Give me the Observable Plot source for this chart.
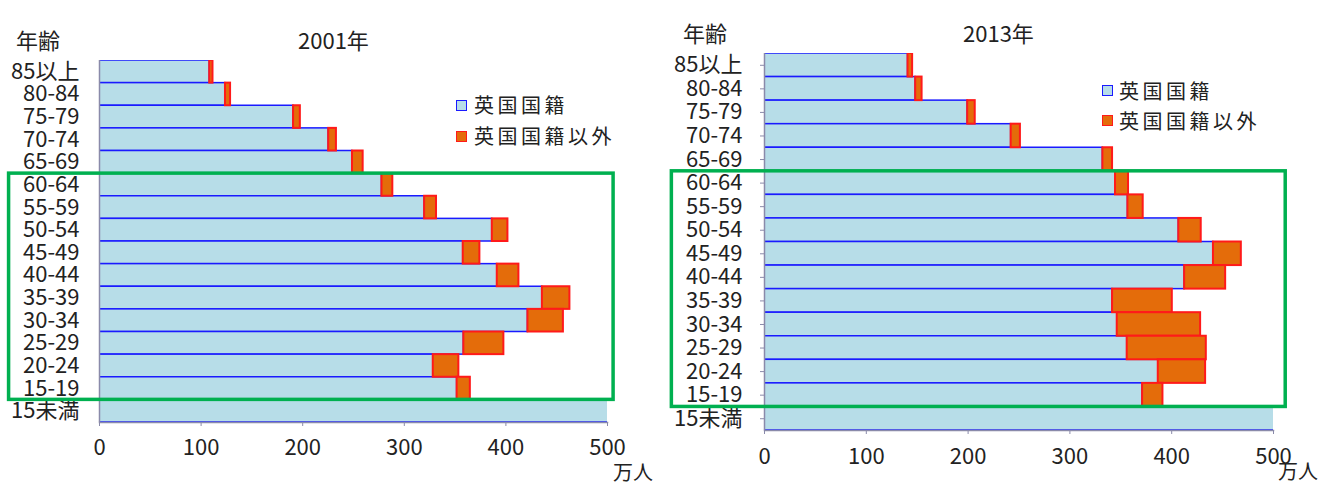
<!DOCTYPE html>
<html><head><meta charset="utf-8">
<script src="https://cdn.jsdelivr.net/npm/d3@7"></script>
<script src="https://cdn.jsdelivr.net/npm/@observablehq/plot@0.6"></script>
<style>
body{margin:0;background:#fff;font-family:"Noto Sans CJK JP",sans-serif;}
#wrap{position:relative;width:1319px;height:494px;overflow:hidden;}
.panel{position:absolute;top:0;}
.t{position:absolute;white-space:nowrap;color:#222;line-height:1;}
.lg{position:absolute;white-space:nowrap;color:#222;font-size:20px;letter-spacing:3.5px;line-height:1;}
.sw{position:absolute;width:9px;height:9px;box-sizing:content-box;}
</style></head><body>
<div id="wrap">
  <div id="p1" class="panel" style="left:0"></div>
  <div id="p2" class="panel" style="left:660px"></div>
</div>
<script>
const FONT = '"Noto Sans CJK JP", "Noto Sans", sans-serif';
const ages = ["85以上","80-84","75-79","70-74","65-69","60-64","55-59","50-54","45-49","40-44","35-39","30-34","25-29","20-24","15-19","15未満"];
const british2001 = [108.5,124,191,225.6,249,278,320,386.6,358,391.5,435.9,421.7,358.6,328.5,352,1080];
const nonBritish2001 = [3.2,5,6.7,7.6,10.5,10.7,11.7,15.4,16.4,21.3,27.1,34.9,39.4,25.2,13,40];
const british2013 = [141,148.5,199.6,242.3,332.4,344.8,357,407,441,412.7,341.9,346.5,356.3,386.8,371.4,1080];
const nonBritish2013 = [4.5,6.3,7.4,9.1,9.5,12.8,15,22,27.4,40.3,58.7,81.9,77.7,46.5,20,60];
const xTicks = [0,100,200,300,400,500];
const seriesNames = ["英国国籍","英国国籍以外"];
const years = ["2001年","2013年"];
const highlightAges = ["60-64","15-19"]; // highlighted working-age range

function panel(sel, cfg) {
  const rows = ages.map((a, i) => ({age: a, b: cfg.british[i], n: cfg.non[i]}));
  const chart = Plot.plot({
    width: cfg.width, height: 494,
    marginLeft: cfg.ml, marginRight: cfg.mr, marginTop: cfg.mt, marginBottom: cfg.mb,
    style: {fontFamily: FONT, background: "transparent", color: "#222", overflow: "visible"},
    x: {domain: [0, 500]},
    y: {domain: ages, padding: 0, round: false},
    marks: [
      Plot.barX(rows, {y: "age", x1: 0, x2: "b", fill: "#b7dde8", stroke: "#1a1aff", strokeWidth: 1.5, clip: true}),
      Plot.barX(rows, {y: "age", x1: "b", x2: d => d.b + d.n, fill: "#e46c0a", stroke: "#ff1a1a", strokeWidth: 2, clip: true}),
      Plot.ruleX([0], {stroke: "#8a8aaa", strokeWidth: 1.5}),
      Plot.frame({anchor: "bottom", stroke: "#8a8aaa", strokeWidth: 1.5}),
      Plot.axisX({ticks: xTicks, tickSize: 4, tickPadding: cfg.xpad, fontSize: 22, stroke: "#8a8aaa", label: null}),
      Plot.axisY({tickSize: cfg.ytick, tickPadding: cfg.ypad, fontSize: 22, stroke: "#8a8aaa", label: null}),
      Plot.rect([cfg.box], {x1: "x1", x2: "x2", y1: () => highlightAges[0], y2: () => highlightAges[1], fill: "none", stroke: "#00b050", strokeWidth: 3.5})
    ]
  });
  document.querySelector(sel).appendChild(chart);
}

panel("#p1", {width: 660, ml: 99, mr: 53, mt: 60, mb: 72, british: british2001, non: nonBritish2001, ytick: 0, ypad: 20, xpad: 13, box: {x1: -89, x2: 506}});
panel("#p2", {width: 659, ml: 104, mr: 46, mt: 53, mb: 64, british: british2013, non: nonBritish2013, ytick: 4, ypad: 18, xpad: 14, box: {x1: -91, x2: 512}});

// titles, legends and units as HTML text
const wrap = document.getElementById("wrap");
function addText(txt, x, y, size, cls) {
  const d = document.createElement("div");
  d.className = cls || "t";
  d.textContent = txt;
  d.style.left = x + "px"; d.style.top = y + "px";
  if (size) d.style.fontSize = size + "px";
  wrap.appendChild(d);
  return d;
}
function addSwatch(x, y, fill, border) {
  const d = document.createElement("div");
  d.className = "sw";
  d.style.left = x + "px"; d.style.top = y + "px";
  d.style.background = fill; d.style.border = "1.5px solid " + border;
  wrap.appendChild(d);
}
addText("年齢", 16, 28, 22);
addText(years[0], 298, 28, 22);
addText("年齢", 683, 21, 22);
addText(years[1], 963, 21, 22);
addText("万人", 613, 462, 20);
addText("万人", 1278, 461, 20);
// legends
addSwatch(456, 100, "#b7dde8", "#1a1aff");
addText(seriesNames[0], 474, 95, null, "lg");
addSwatch(456, 131, "#e46c0a", "#ff1a1a");
addText(seriesNames[1], 474, 126, null, "lg");
addSwatch(1102, 85, "#b7dde8", "#1a1aff");
addText(seriesNames[0], 1119, 81, null, "lg");
addSwatch(1102, 115, "#e46c0a", "#ff1a1a");
addText(seriesNames[1], 1119, 111, null, "lg");
</script>
</body></html>
